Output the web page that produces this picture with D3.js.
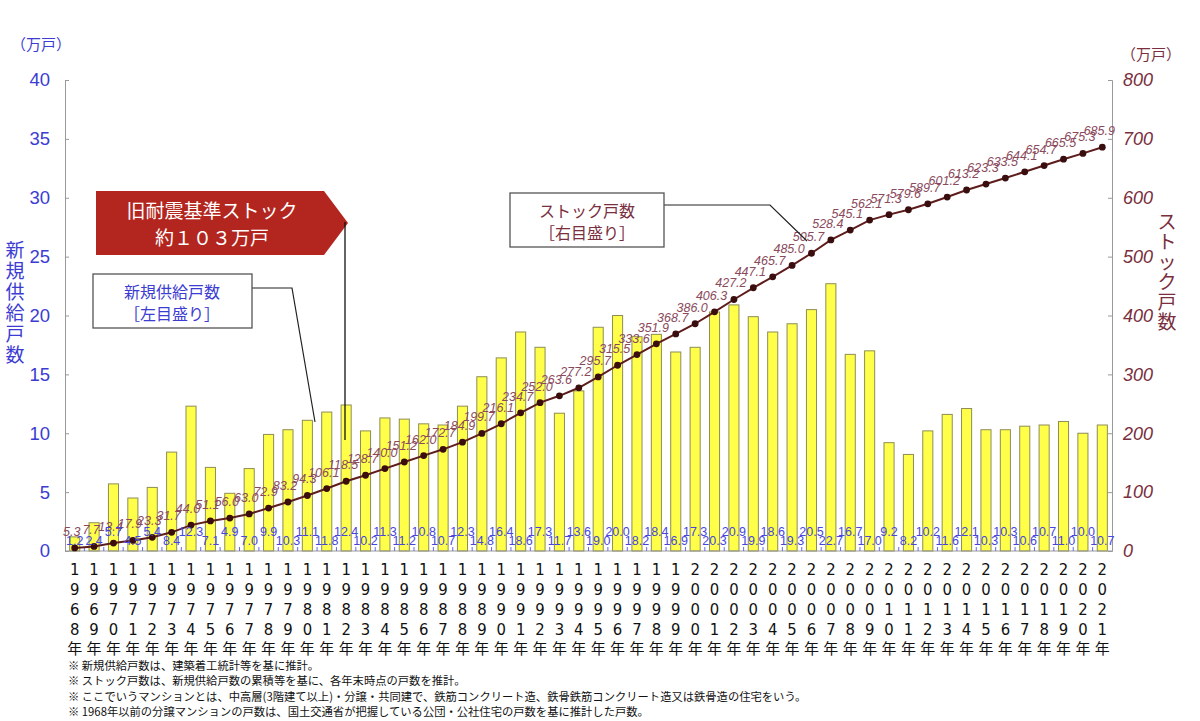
<!DOCTYPE html>
<html><head><meta charset="utf-8">
<script src="https://cdn.jsdelivr.net/npm/d3@7"></script>
<style>body{margin:0;background:#fff} svg{display:block}</style>
</head><body>
<svg id="c" width="1200" height="721"></svg>
<script>
const years = [1968,1969,1970,1971,1972,1973,1974,1975,1976,1977,
  1978,1979,1980,1981,1982,1983,1984,1985,1986,1987,
  1988,1989,1990,1991,1992,1993,1994,1995,1996,1997,
  1998,1999,2000,2001,2002,2003,2004,2005,2006,2007,
  2008,2009,2010,2011,2012,2013,2014,2015,2016,2017,
  2018,2019,2020,2021];
const newSupply = [1.2,2.4,5.7,4.5,5.4,8.4,12.3,7.1,4.9,7.0,
  9.9,10.3,11.1,11.8,12.4,10.2,11.3,11.2,10.8,10.7,
  12.3,14.8,16.4,18.6,17.3,11.7,13.6,19.0,20.0,18.2,
  18.4,16.9,17.3,20.3,20.9,19.9,18.6,19.3,20.5,22.7,
  16.7,17.0,9.2,8.2,10.2,11.6,12.1,10.3,10.3,10.6,
  10.7,11.0,10.0,10.7];
const stock = [5.3,7.7,13.4,17.9,23.3,31.7,44.0,51.1,56.0,63.0,
  72.9,83.2,94.3,106.1,118.5,128.7,140.0,151.2,162.0,172.7,
  184.9,199.7,216.1,234.7,252.0,263.6,277.2,295.7,315.5,333.6,
  351.9,368.7,386.0,406.3,427.2,447.1,465.7,485.0,505.7,528.4,
  545.1,562.1,571.3,579.6,589.7,601.2,613.2,623.3,633.5,644.1,
  654.7,665.5,675.3,685.9];
const leftTicks = [0,5,10,15,20,25,30,35,40];
const rightTicks = [0,100,200,300,400,500,600,700,800];
const leftTitle = "新規供給戸数";
const rightTitle = "ストック戸数";
const unitLabel = "（万戸）";
const calloutLines = ["旧耐震基準ストック","約１０３万戸"];
const supplyBoxLines = ["新規供給戸数","［左目盛り］"];
const stockBoxLines = ["ストック戸数","［右目盛り］"];
const notes = [
  "※  新規供給戸数は、建築着工統計等を基に推計。",
  "※  ストック戸数は、新規供給戸数の累積等を基に、各年末時点の戸数を推計。",
  "※  ここでいうマンションとは、中高層(3階建て以上)・分譲・共同建で、鉄筋コンクリート造、鉄骨鉄筋コンクリート造又は鉄骨造の住宅をいう。",
  "※  1968年以前の分譲マンションの戸数は、国土交通省が把握している公団・公社住宅の戸数を基に推計した戸数。"
];

(function () {
const BLUE = "#3c3cd2", MAROON = "#7a2f3e", LINE = "#5e1c1c";
const JP = "'Noto Sans CJK JP','Noto Sans',sans-serif";
const svg = d3.select("#c");
const pL = 65, pR = 1112, pT = 80, pB = 551;

const x = d3.scaleBand().domain(years).range([pL, pR]).padding(0);
const step = x.bandwidth();
const barW = step * 0.52;
const yL = d3.scaleLinear().domain([0, 40]).range([pB, pT]);
const yR = d3.scaleLinear().domain([0, 800]).range([pB, pT]);
const cx = d => x(d) + step / 2;

// bars
svg.append("g").selectAll("rect").data(years).join("rect")
  .attr("x", (d) => cx(d) - barW / 2)
  .attr("y", (d, i) => yL(newSupply[i]))
  .attr("width", barW)
  .attr("height", (d, i) => pB - yL(newSupply[i]))
  .attr("fill", "#ffff4a").attr("stroke", "#8d8d55").attr("stroke-width", 1);

// left axis
const ga = svg.append("g").attr("transform", `translate(${pL},0)`)
  .call(d3.axisLeft(yL).tickValues(leftTicks).tickSize(-4).tickPadding(15));
ga.select(".domain").attr("stroke", "#999");
ga.selectAll(".tick line").attr("stroke", "#999");
ga.selectAll("text").attr("fill", BLUE).attr("font-size", 18.5).attr("font-family", "'Liberation Sans',Arial,sans-serif");

// right axis
const gr = svg.append("g").attr("transform", `translate(${pR},0)`)
  .call(d3.axisRight(yR).tickValues(rightTicks).tickSize(-4).tickPadding(11));
gr.select(".domain").attr("stroke", "#999");
gr.selectAll(".tick line").attr("stroke", "#999");
gr.selectAll("text").attr("fill", MAROON).attr("font-size", 18).attr("font-style", "italic")
  .attr("font-family", "'Liberation Sans',Arial,sans-serif");

// bottom axis line and ticks
svg.append("line").attr("x1", pL).attr("x2", pR).attr("y1", pB).attr("y2", pB)
  .attr("stroke", "#999");
svg.append("g").selectAll("line").data(years.slice(1)).join("line")
  .attr("x1", d => x(d)).attr("x2", d => x(d))
  .attr("y1", pB).attr("y2", pB - 4).attr("stroke", "#6b6be0");

// stock line
const line = d3.line().x((d, i) => cx(years[i])).y(d => yR(d));
svg.append("path").datum(stock).attr("d", line)
  .attr("fill", "none").attr("stroke", LINE).attr("stroke-width", 2);
svg.append("g").selectAll("circle").data(stock).join("circle")
  .attr("cx", (d, i) => cx(years[i])).attr("cy", d => yR(d)).attr("r", 3.4)
  .attr("fill", "#3a0e0e");

// stock labels
svg.append("g").selectAll("text").data(stock).join("text")
  .attr("x", (d, i) => cx(years[i]) - 3).attr("y", d => yR(d) - 12)
  .attr("text-anchor", "middle").attr("font-size", 12.5).attr("font-style", "italic")
  .attr("font-family", "'Liberation Sans',Arial,sans-serif").attr("fill", "#8a4a5c")
  .text(d => d.toFixed(1));

// bar labels
svg.append("g").selectAll("text").data(newSupply).join("text")
  .attr("x", (d, i) => cx(years[i])).attr("y", (d, i) => (i % 2 === 0 && i > 0) ? 536 : 545)
  .attr("text-anchor", "middle").attr("font-size", 12.5)
  .attr("font-family", "'Liberation Sans',Arial,sans-serif").attr("fill", "#4646dc")
  .text(d => d.toFixed(1));

// year labels (stacked vertically)
const rowsY = [575, 595, 615, 635];
const yg = svg.append("g").attr("font-family", "'Liberation Sans Narrow','DejaVu Sans Condensed',sans-serif")
  .attr("font-size", 16.5).attr("fill", "#111").attr("text-anchor", "middle");
years.forEach(yr => {
  const s = String(yr);
  for (let k = 0; k < 4; k++) {
    yg.append("text").attr("x", cx(yr)).attr("y", rowsY[k]).text(s[k]);
  }
  yg.append("text").attr("x", cx(yr)).attr("y", 654).attr("font-family", JP)
    .attr("font-size", 15).text("年");
});

// unit labels
svg.append("text").attr("x", 41).attr("y", 50).attr("text-anchor", "middle")
  .attr("font-family", JP).attr("font-size", 15).attr("fill", BLUE).text(unitLabel);
svg.append("text").attr("x", 1151).attr("y", 60).attr("text-anchor", "middle")
  .attr("font-family", JP).attr("font-size", 15).attr("fill", MAROON).text(unitLabel);

// axis titles (vertical)
leftTitle.split("").forEach((ch, i) => {
  svg.append("text").attr("x", 15).attr("y", 257 + i * 21).attr("text-anchor", "middle")
    .attr("font-family", JP).attr("font-size", 19).attr("fill", BLUE).text(ch);
});
rightTitle.split("").forEach((ch, i) => {
  svg.append("text").attr("x", 1167).attr("y", 229 + i * 20).attr("text-anchor", "middle")
    .attr("font-family", JP).attr("font-size", 19).attr("fill", MAROON).text(ch);
});

// red callout
svg.append("path").attr("d", "M96,191 L324,191 L348,223 L324,255 L96,255 Z")
  .attr("fill", "#b3261f");
calloutLines.forEach((t, i) => {
  svg.append("text").attr("x", 212).attr("y", 218 + i * 27).attr("text-anchor", "middle")
    .attr("font-family", JP).attr("font-size", 19).attr("fill", "#fff").text(t);
});
svg.append("line").attr("x1", 345).attr("x2", 345).attr("y1", 222).attr("y2", 440)
  .attr("stroke", "#111").attr("stroke-width", 1.3);

// supply box
svg.append("polyline").attr("points", "252,288 292,288 315,422")
  .attr("fill", "none").attr("stroke", "#222").attr("stroke-width", 1.2);
svg.append("rect").attr("x", 93).attr("y", 274).attr("width", 159).attr("height", 54)
  .attr("fill", "#fff").attr("stroke", "#555").attr("stroke-width", 1.3);
supplyBoxLines.forEach((t, i) => {
  svg.append("text").attr("x", 172).attr("y", 298 + i * 22).attr("text-anchor", "middle")
    .attr("font-family", JP).attr("font-size", 16).attr("fill", BLUE).text(t);
});

// stock box
svg.append("polyline").attr("points", "664,205 770,205 807,241")
  .attr("fill", "none").attr("stroke", "#222").attr("stroke-width", 1.2);
svg.append("rect").attr("x", 510).attr("y", 193).attr("width", 154).attr("height", 54)
  .attr("fill", "#fff").attr("stroke", "#555").attr("stroke-width", 1.3);
stockBoxLines.forEach((t, i) => {
  svg.append("text").attr("x", 587).attr("y", 217 + i * 22).attr("text-anchor", "middle")
    .attr("font-family", JP).attr("font-size", 16).attr("fill", MAROON).text(t);
});

// footnotes
notes.forEach((t, i) => {
  svg.append("text").attr("x", 68).attr("y", 670 + i * 15.3)
    .attr("font-family", JP).attr("font-size", 11.3).attr("fill", "#111").text(t);
});
})();
</script>
</body></html>
